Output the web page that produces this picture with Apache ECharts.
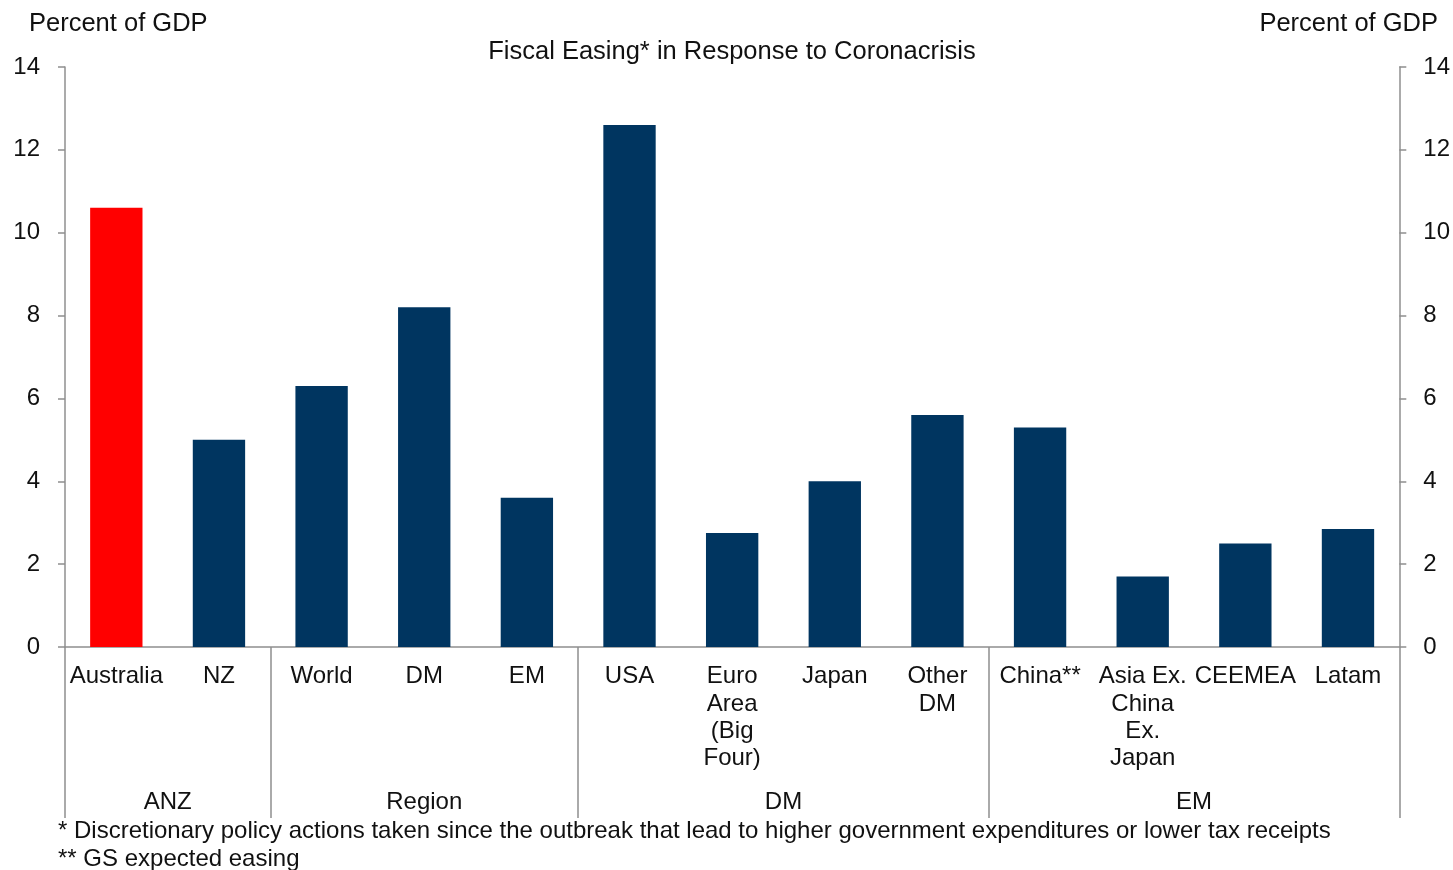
<!DOCTYPE html>
<html>
<head>
<meta charset="utf-8">
<title>Fiscal Easing in Response to Coronacrisis</title>
<script src="https://cdn.jsdelivr.net/npm/echarts@6/dist/echarts.min.js"></script>
<style>
  html, body { margin: 0; padding: 0; background: #ffffff; }
  #chart { width: 1453px; height: 870px; }
</style>
</head>
<body>
<div id="chart"></div>
<script>
// Fiscal easing by economy, percent of GDP
const categories = [
  'Australia', 'NZ', 'World', 'DM', 'EM', 'USA',
  'Euro\nArea\n(Big\nFour)', 'Japan', 'Other\nDM',
  'China**', 'Asia Ex.\nChina\nEx.\nJapan', 'CEEMEA', 'Latam'
];
const easing = [10.6, 5.0, 6.3, 8.2, 3.6, 12.6, 2.75, 4.0, 5.6, 5.3, 1.7, 2.5, 2.85];
const highlighted = 'Australia';

// Category groups shown beneath the axis
const groupNames = ['ANZ', 'Region', 'DM', 'EM'];
const groupSizes = [2, 3, 4, 4];

const yTicks = { min: 0, max: 14, step: 2 };

const footnotes = [
  '* Discretionary policy actions taken since the outbreak that lead to higher government expenditures or lower tax receipts',
  '** GS expected easing'
];

// group boundaries (category index where each group starts) and centres
const groupStarts = [];
const groupCentres = {};
let acc = 0;
groupSizes.forEach((n, i) => {
  groupStarts.push(acc);
  groupCentres[acc + n / 2] = groupNames[i];
  acc += n;
});

const FONT = 'Liberation Sans, Arial, sans-serif';
const TEXT = '#111111';
const AXIS = '#8f8f8f';
const NAVY = '#003560';
const RED = '#ff0000';

const textBlock = (size) => ({ fontFamily: FONT, fontSize: size, fontWeight: 'normal', color: TEXT });

const chart = echarts.init(document.getElementById('chart'), null, { renderer: 'canvas' });

chart.setOption({
  backgroundColor: '#ffffff',
  animation: false,
  textStyle: { fontFamily: FONT, color: TEXT },
  title: [
    { text: 'Fiscal Easing* in Response to Coronacrisis', left: 732, top: 39, textAlign: 'center',
      padding: 0, textStyle: textBlock(25.5) },
    { text: 'Percent of GDP', left: 29, top: 11, padding: 0, textStyle: textBlock(25.5) },
    { text: 'Percent of GDP', right: 15, top: 11, padding: 0, textStyle: textBlock(25.5) },
    { text: footnotes[0], left: 58, top: 819, padding: 0, textStyle: textBlock(24) },
    { text: footnotes[1], left: 58, top: 847, padding: 0, textStyle: textBlock(24) }
  ],
  grid: { left: 65, right: 53, top: 67, bottom: 223, containLabel: false },
  xAxis: [
    {
      type: 'category',
      data: categories,
      boundaryGap: true,
      axisLine: { show: true, lineStyle: { color: AXIS, width: 1.5 } },
      axisTick: {
        show: true,
        alignWithLabel: false,
        length: 171,
        interval: (index) => groupStarts.indexOf(index) !== -1,
        lineStyle: { color: AXIS, width: 1.5 }
      },
      axisLabel: {
        interval: 0,
        margin: 16,
        fontFamily: FONT,
        fontSize: 24,
        lineHeight: 27.3,
        color: TEXT
      },
      splitLine: { show: false }
    },
    {
      type: 'value',
      position: 'bottom',
      min: 0,
      max: categories.length,
      interval: 0.5,
      axisLine: { show: false },
      axisTick: { show: false },
      splitLine: { show: false },
      axisLabel: {
        margin: 142,
        fontFamily: FONT,
        fontSize: 24,
        lineHeight: 27,
        color: TEXT,
        showMinLabel: true,
        showMaxLabel: true,
        formatter: (v) => groupCentres[v] || ''
      }
    }
  ],
  yAxis: [
    {
      type: 'value',
      position: 'left',
      min: yTicks.min, max: yTicks.max, interval: yTicks.step,
      axisLine: { show: true, lineStyle: { color: AXIS, width: 1.5 } },
      axisTick: { show: true, length: 7, lineStyle: { color: AXIS, width: 1.5 } },
      axisLabel: { margin: 25, fontFamily: FONT, fontSize: 24, color: TEXT },
      splitLine: { show: false }
    },
    {
      type: 'value',
      position: 'right',
      min: yTicks.min, max: yTicks.max, interval: yTicks.step,
      axisLine: { show: true, lineStyle: { color: AXIS, width: 1.5 } },
      axisTick: { show: true, length: 7, lineStyle: { color: AXIS, width: 1.5 } },
      axisLabel: { margin: 24, fontFamily: FONT, fontSize: 24, color: TEXT },
      splitLine: { show: false }
    }
  ],
  series: [
    {
      type: 'bar',
      xAxisIndex: 0,
      yAxisIndex: 0,
      barWidth: '51%',
      data: easing.map((v, i) => ({
        value: v,
        itemStyle: { color: categories[i] === highlighted ? RED : NAVY }
      }))
    }
  ]
});
</script>
</body>
</html>
